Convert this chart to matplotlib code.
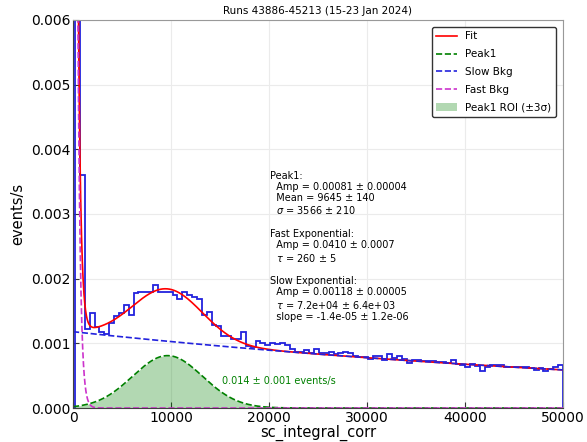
import numpy as np, matplotlib; matplotlib.use("Agg")
import matplotlib.pyplot as plt

# histogram (events/s, x1e-3), 100 bins from 200 to 50000
bin_lo, bin_hi, n_bins = 200, 50000, 100
rate = np.array([
    9.5, 3.60, 1.22, 1.47, 1.25, 1.17, 1.14, 1.32, 1.43, 1.47,
    1.60, 1.44, 1.78, 1.79, 1.80, 1.80, 1.90, 1.80, 1.80, 1.80,
    1.74, 1.69, 1.80, 1.74, 1.72, 1.68, 1.44, 1.49, 1.28, 1.27,
    1.11, 1.11, 1.06, 1.06, 1.17, 0.96, 0.95, 1.04, 1.00, 0.97,
    1.00, 0.99, 1.01, 0.97, 0.91, 0.87, 0.86, 0.90, 0.85, 0.92,
    0.85, 0.85, 0.87, 0.84, 0.85, 0.86, 0.85, 0.81, 0.79, 0.79,
    0.76, 0.81, 0.81, 0.74, 0.83, 0.78, 0.81, 0.76, 0.69, 0.75,
    0.74, 0.73, 0.73, 0.72, 0.71, 0.71, 0.70, 0.75, 0.68, 0.66,
    0.63, 0.68, 0.65, 0.58, 0.64, 0.66, 0.67, 0.67, 0.64, 0.64,
    0.64, 0.64, 0.63, 0.62, 0.59, 0.62, 0.57, 0.60, 0.63, 0.66]) * 1e-3

# fit parameters
peak_amp, peak_mean, peak_sigma = 0.00081, 9645, 3566
fast_amp, fast_tau = 0.0410, 260
slow_amp, slow_tau = 0.00118, 7.2e4

edges = np.linspace(bin_lo, bin_hi, n_bins + 1)
x = np.linspace(0, 50000, 3000)
gauss = peak_amp * np.exp(-0.5 * ((x - peak_mean) / peak_sigma) ** 2)
fast = fast_amp * np.exp(-x / fast_tau)
slow = slow_amp * np.exp(-x / slow_tau)
fit = gauss + fast + slow

fig = plt.figure(figsize=(5.87, 4.42), dpi=100)
ax = fig.add_axes([0.1244, 0.0769, 0.8346, 0.8779])
ax.grid(True, color="0.92", lw=0.8); ax.set_axisbelow(True)

roi = (x >= peak_mean - 3 * peak_sigma) & (x <= peak_mean + 3 * peak_sigma)
ax.fill_between(x[roi], gauss[roi], color="green", alpha=0.3, lw=0, label="Peak1 ROI (±3σ)")
ax.stairs(rate, edges, color="#2222dd", lw=1.3)
ax.plot(x, fit, color="red", lw=1.2, label="Fit")
ax.plot(x, gauss, "--", color="green", lw=1.2, label="Peak1")
ax.plot(x, slow, "--", color="#2222dd", lw=1.2, label="Slow Bkg")
ax.plot(x, fast, "--", color="#cc33cc", lw=1.2, label="Fast Bkg")

ax.set_xlim(0, 50000); ax.set_ylim(0, 0.006)
ax.set_xticks(np.arange(0, 50001, 10000))
ax.set_yticks(np.arange(0, 0.0061, 0.001))
ax.yaxis.set_major_formatter(matplotlib.ticker.FormatStrFormatter("%.3f"))
ax.tick_params(direction="in", labelsize=10, length=4, color="0.2", pad=2)
for s in ("left", "bottom"): ax.spines[s].set_color("0.25")
for s in ("top", "right"): ax.spines[s].set_color("0.6")
ax.set_xlabel("sc_integral_corr", fontsize=10.5, labelpad=0)
ax.set_ylabel("events/s", fontsize=10.5)
ax.set_title("Runs 43886-45213 (15-23 Jan 2024)", fontsize=7.5, pad=4)

h, l = ax.get_legend_handles_labels()
order = [1, 2, 3, 4, 0]
ax.legend([h[i] for i in order], [l[i] for i in order], loc="upper right", fontsize=7.5,
          frameon=True, edgecolor="0.2", fancybox=True, framealpha=1, borderaxespad=0.7,
          labelspacing=0.75)

txt = ("Peak1:\n  Amp = 0.00081 ± 0.00004\n  Mean = 9645 ± 140\n  $\\sigma$ = 3566 ± 210\n\n"
       "Fast Exponential:\n  Amp = 0.0410 ± 0.0007\n  $\\tau$ = 260 ± 5\n\n"
       "Slow Exponential:\n  Amp = 0.00118 ± 0.00005\n  $\\tau$ = 7.2e+04 ± 6.4e+03\n  slope = -1.4e-05 ± 1.2e-06")
ax.text(0.402, 0.612, txt, transform=ax.transAxes, fontsize=7, va="top", ha="left", linespacing=1.15)
ax.text(15200, 0.00042, "0.014 ± 0.001 events/s", color="green", fontsize=7, va="center")

fig.savefig("out.png", dpi=100)
